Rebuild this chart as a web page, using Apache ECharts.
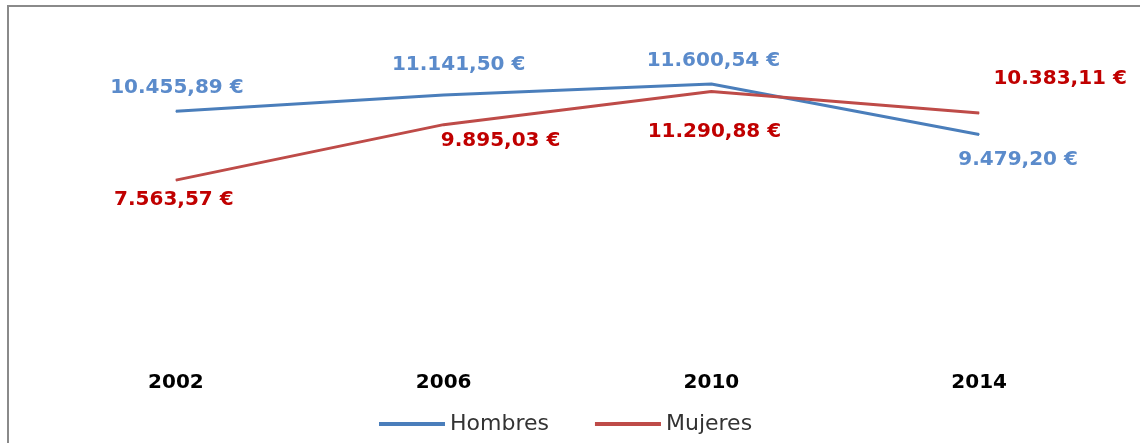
<!DOCTYPE html>
<html style="height: 100%" lang="es">
<head>
    <meta charset="utf-8">
    <script type="text/javascript" src="https://cdn.jsdelivr.net/npm/echarts@6/dist/echarts.min.js"></script>
    <title>Hombres y Mujeres</title>
</head>
<body style="height: 100%; margin: 0; background: #fff">
<div id="container" style="width: 1140px; height: 443px"></div>
</body>
<script type="text/javascript">
    // datos
    let years = ['2002', '2006', '2010', '2014'];
    let hombres = [10455.89, 11141.50, 11600.54, 9479.20];
    let mujeres = [7563.57, 9895.03, 11290.88, 10383.11];

    // desplazamiento de las etiquetas (x, y) respecto al punto
    let hombresOffset = [[1, -24], [15, -30], [2, -23], [39, 25]];
    let mujeresOffset = [[-2, 20], [57, 16], [3, 40], [81, -34]];

    function euro(v) {
        let parts = v.toFixed(2).split('.');
        let ent = parts[0].replace(/\B(?=(\d{3})+(?!\d))/g, '.');
        return ent + ',' + parts[1] + ' €';
    }

    function items(values, offsets) {
        return values.map(function (v, i) {
            return {value: v, label: {offset: offsets[i]}};
        });
    }

    let dom = document.getElementById("container");
    let myChart = echarts.init(dom);
    let option = {
        animation: false,
        backgroundColor: '#fff',
        graphic: [{
            type: 'rect',
            shape: {x: 8, y: 6, width: 1300, height: 600},
            style: {fill: 'none', stroke: '#8a8a8a', lineWidth: 2},
            silent: true
        }],
        grid: {left: 42, right: 27, top: 27, bottom: 83},
        legend: {
            left: 374,
            top: 408,
            icon: 'rect',
            itemWidth: 66,
            itemHeight: 4,
            itemGap: 46,
            textStyle: {fontFamily: 'DejaVu Sans', fontSize: 22, color: '#333'},
            data: ['Hombres', 'Mujeres']
        },
        xAxis: {
            type: 'category',
            data: years,
            axisLine: {show: false},
            axisTick: {show: false},
            axisLabel: {
                margin: 13,
                fontFamily: 'DejaVu Sans',
                fontWeight: 'bold',
                fontSize: 20,
                color: '#000'
            }
        },
        yAxis: {
            type: 'value',
            min: 0,
            max: 14000,
            show: false,
            splitLine: {show: false}
        },
        series: [
            {
                name: 'Hombres',
                type: 'line',
                data: items(hombres, hombresOffset),
                symbol: 'circle',
                symbolSize: 1,
                itemStyle: {color: '#4A7EBB'},
                lineStyle: {color: '#4A7EBB', width: 3},
                label: {
                    show: true,
                    position: 'inside',
                    formatter: function (p) { return euro(p.value); },
                    fontFamily: 'DejaVu Sans',
                    fontWeight: 'bold',
                    fontSize: 20,
                    color: '#5B8BCB'
                }
            },
            {
                name: 'Mujeres',
                type: 'line',
                data: items(mujeres, mujeresOffset),
                symbol: 'circle',
                symbolSize: 1,
                itemStyle: {color: '#BE4B48'},
                lineStyle: {color: '#BE4B48', width: 3},
                label: {
                    show: true,
                    position: 'inside',
                    formatter: function (p) { return euro(p.value); },
                    fontFamily: 'DejaVu Sans',
                    fontWeight: 'bold',
                    fontSize: 20,
                    color: '#C00000'
                }
            }
        ]
    };
    myChart.setOption(option);
</script>
</html>
